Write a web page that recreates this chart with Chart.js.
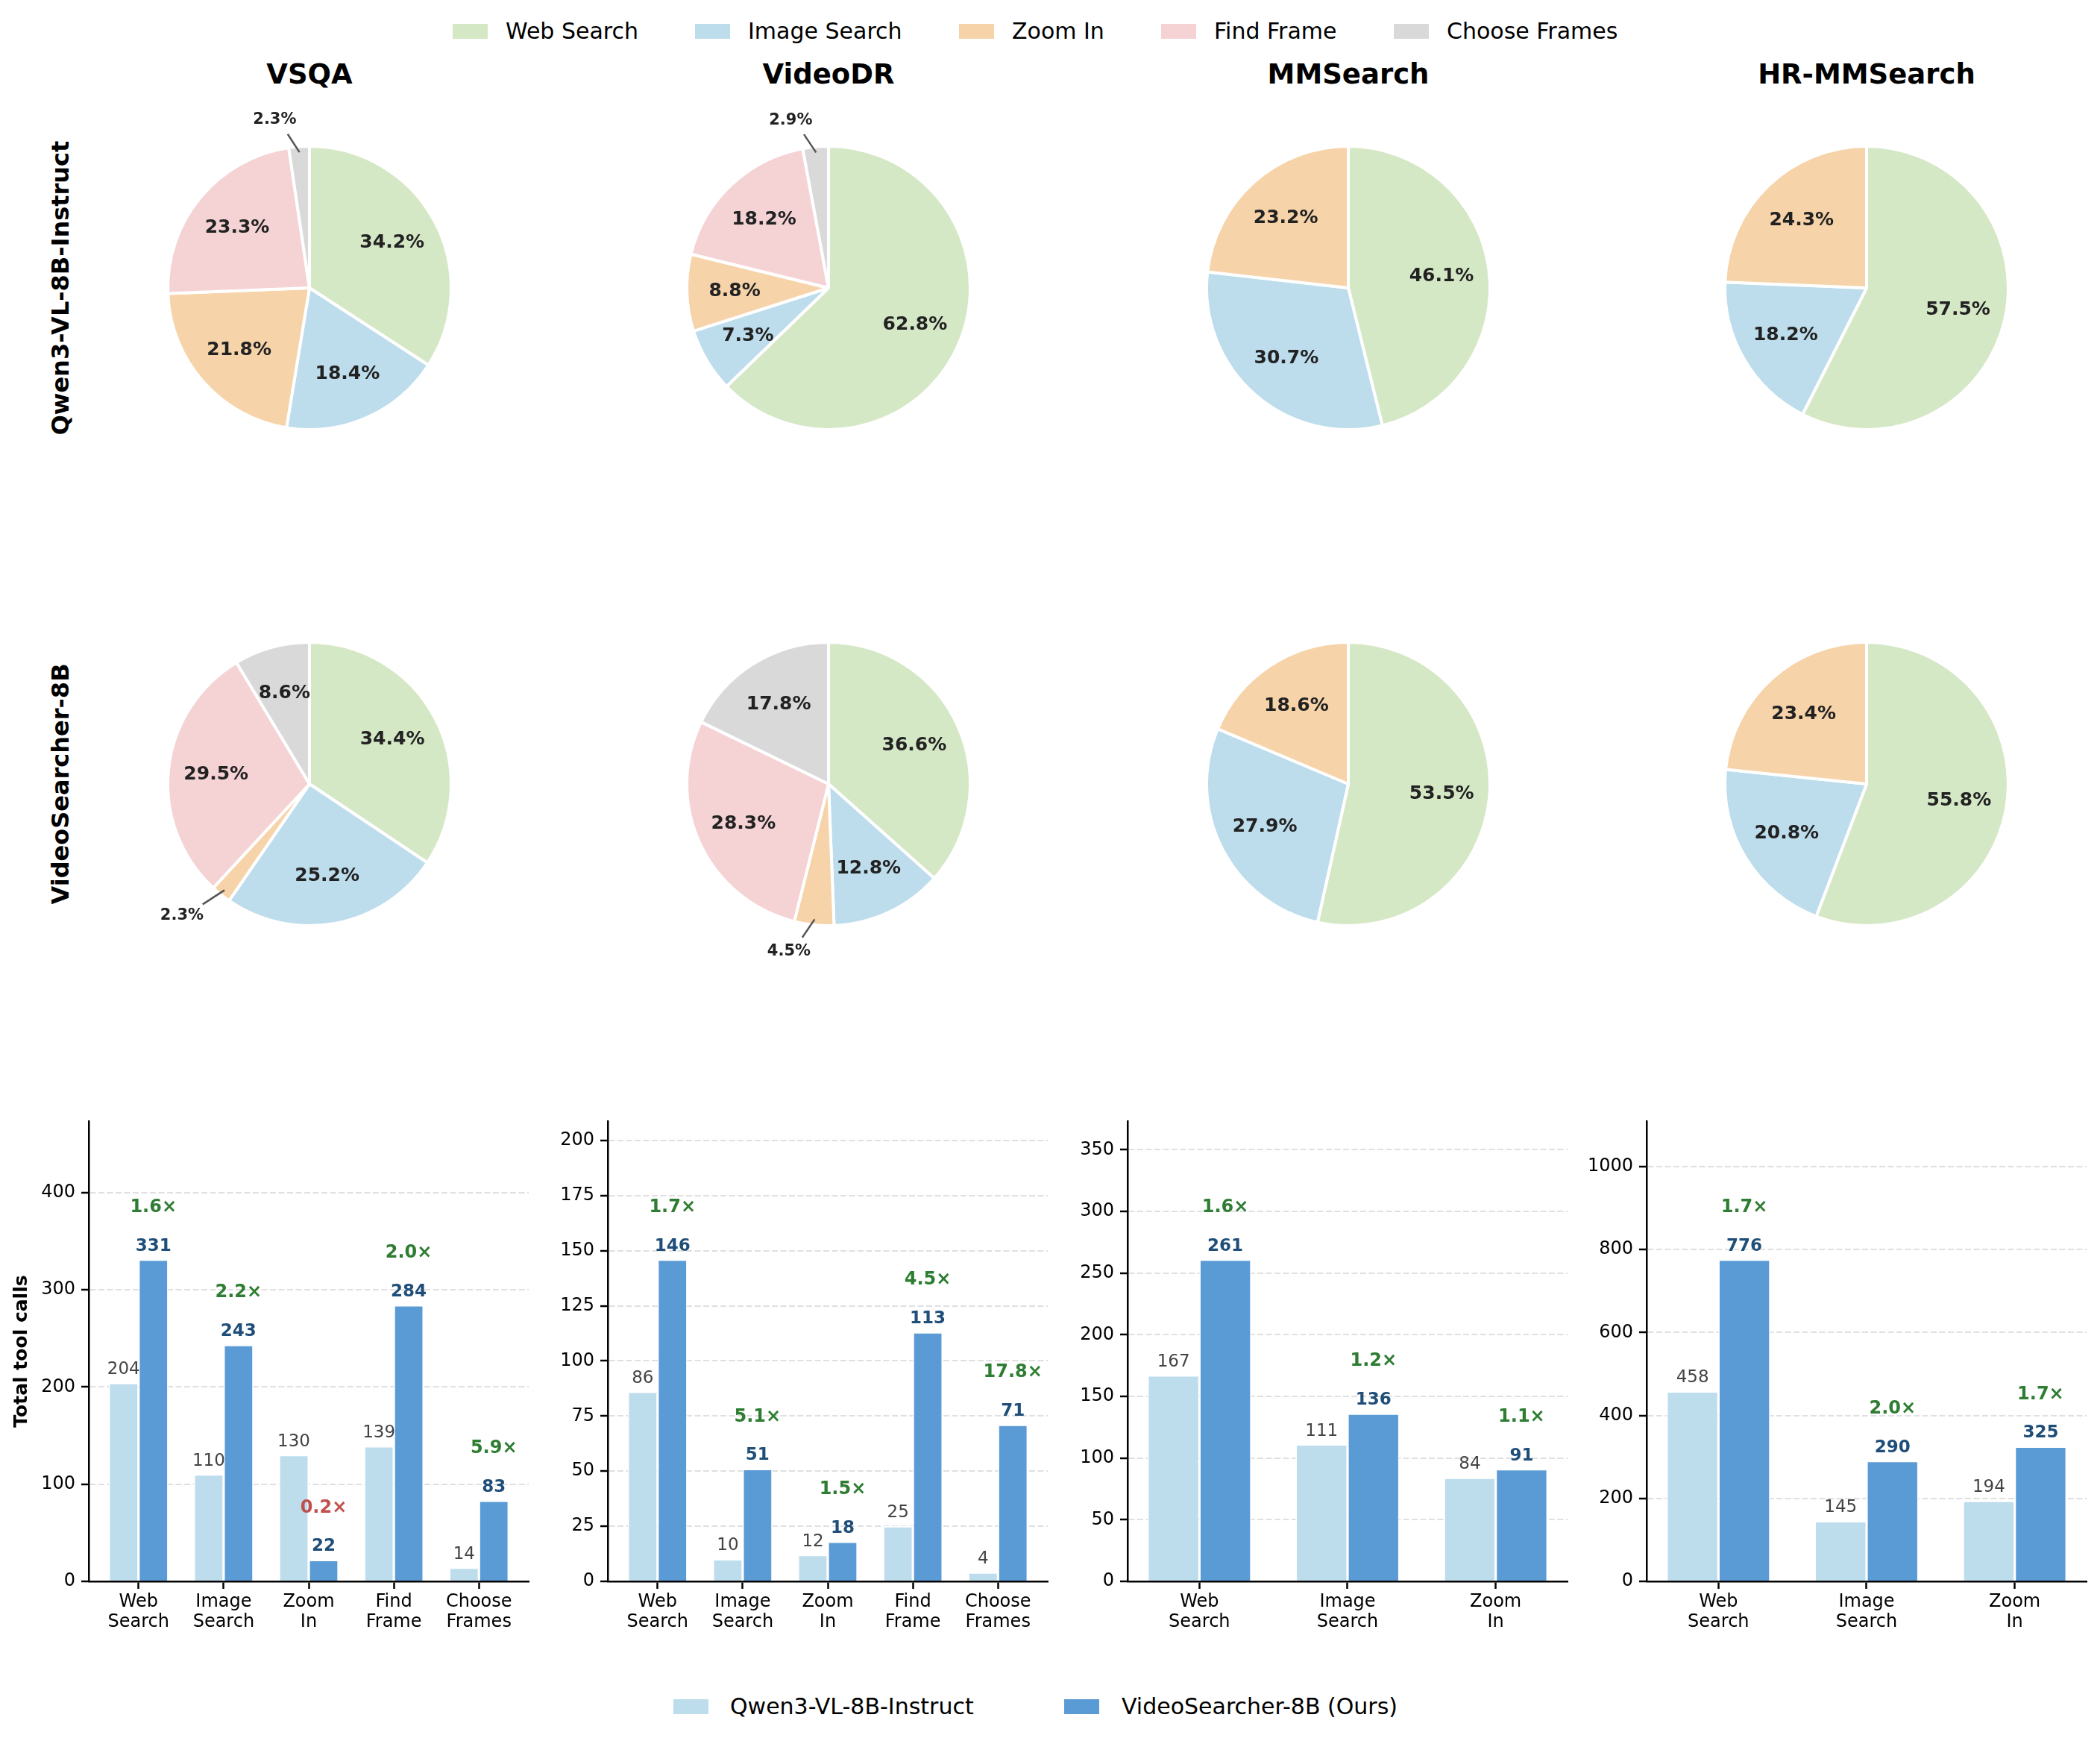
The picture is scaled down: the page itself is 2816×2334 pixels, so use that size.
<!DOCTYPE html>
<html>
<head>
<meta charset="utf-8">
<script src="https://cdn.jsdelivr.net/npm/chart.js@4.4.1/dist/chart.umd.min.js"></script>
<style>
  body { margin: 0; background: #fff; font-family: "DejaVu Sans", sans-serif; }
  #page { position: relative; width: 2816px; height: 2334px; background: #fff; overflow: hidden; }
  canvas { position: absolute; }
  .txt { position: absolute; white-space: nowrap; line-height: 1; color: #000; transform: translate(-50%, -50%); }
  .rowlabel { transform: translate(-50%, -50%) rotate(-90deg); font-weight: bold; font-size: 32px; }
  .title { font-weight: bold; font-size: 37px; }
  .legbox { position: absolute; width: 47px; height: 20px; }
  .legtxt { position: absolute; font-size: 30px; line-height: 1; white-space: nowrap; transform: translateY(-50%); }
</style>
</head>
<body>
<div id="page"></div>
<script>
// tool categories and benchmarks
const categories = ["Web Search", "Image Search", "Zoom In", "Find Frame", "Choose Frames"];
const tickLines = [["Web", "Search"], ["Image", "Search"], ["Zoom", "In"], ["Find", "Frame"], ["Choose", "Frames"]];
const benchmarks = ["VSQA", "VideoDR", "MMSearch", "HR-MMSearch"];
const models = ["Qwen3-VL-8B-Instruct", "VideoSearcher-8B"];

// total tool calls per benchmark
const qwenVSQA = [204, 110, 130, 139, 14];
const oursVSQA = [331, 243, 22, 284, 83];
const qwenVideoDR = [86, 10, 12, 25, 4];
const oursVideoDR = [146, 51, 18, 113, 71];
const qwenMMSearch = [167, 111, 84];
const oursMMSearch = [261, 136, 91];
const qwenHRMMSearch = [458, 145, 194];
const oursHRMMSearch = [776, 290, 325];

const yStepSizes = [100, 25, 50, 200];

const qwenAll = [qwenVSQA, qwenVideoDR, qwenMMSearch, qwenHRMMSearch];
const oursAll = [oursVSQA, oursVideoDR, oursMMSearch, oursHRMMSearch];

const pieColors = ["#d5e8c6", "#bddcec", "#f6d3a9", "#f5d3d4", "#d9d9d9"];
const lightBar = "#bddcec";
const darkBar = "#5b9bd5";
const FONT = '"DejaVu Sans"';

const page = document.getElementById("page");

function addText(text, cx, cy, cls, extra) {
  const d = document.createElement("div");
  d.className = "txt " + cls;
  d.textContent = text;
  d.style.left = cx + "px";
  d.style.top = cy + "px";
  if (extra) Object.assign(d.style, extra);
  page.appendChild(d);
}

function addCanvas(left, top, w, h) {
  const c = document.createElement("canvas");
  c.width = w; c.height = h;
  c.style.left = left + "px"; c.style.top = top + "px";
  c.style.width = w + "px"; c.style.height = h + "px";
  page.appendChild(c);
  return c;
}

function addLegendItem(label, color, boxX, textX, cy) {
  const b = document.createElement("div");
  b.className = "legbox";
  b.style.left = boxX + "px"; b.style.top = (cy - 10) + "px"; b.style.background = color;
  page.appendChild(b);
  const t = document.createElement("div");
  t.className = "legtxt";
  t.textContent = label;
  t.style.left = textX + "px"; t.style.top = cy + "px";
  page.appendChild(t);
}

// top legend
const topLegendX = [607, 932, 1286, 1557, 1869];
categories.forEach((c, i) => addLegendItem(c, pieColors[i], topLegendX[i], topLegendX[i] + 71, 42));

// bottom legend
addLegendItem("Qwen3-VL-8B-Instruct", lightBar, 903, 979, 2288);
addLegendItem("VideoSearcher-8B (Ours)", darkBar, 1427, 1504, 2288);

// pies
const pieCX = [415, 1111, 1808, 2503];
const pieCY = [386, 1051];
const R = 188;

benchmarks.forEach((b, i) => addText(b, pieCX[i], 99, "title"));
models.forEach((m, r) => addText(m, 81, pieCY[r], "rowlabel"));

const pieLabels = {
  id: "pieLabels",
  afterDatasetsDraw(chart) {
    const ctx = chart.ctx;
    const vals = chart.data.datasets[0].data;
    const total = vals.reduce((a, b) => a + b, 0);
    ctx.save();
    ctx.textAlign = "center";
    ctx.textBaseline = "middle";
    ctx.fillStyle = "#222";
    chart.getDatasetMeta(0).data.forEach((arc, i) => {
      const p = arc.getProps(["x", "y", "startAngle", "endAngle"]);
      const mid = (p.startAngle + p.endAngle) / 2;
      const cs = Math.cos(mid), sn = Math.sin(mid);
      const pct = vals[i] / total * 100;
      const txt = pct.toFixed(1) + "%";
      if (pct >= 5) {
        ctx.font = "bold 25px " + FONT;
        ctx.fillText(txt, p.x + cs * R * 0.67, p.y + sn * R * 0.67);
      } else {
        ctx.strokeStyle = "#555";
        ctx.lineWidth = 2.5;
        ctx.beginPath();
        ctx.moveTo(p.x + cs * R * 0.97, p.y + sn * R * 0.97);
        ctx.lineTo(p.x + cs * R * 1.1 - 14, p.y + sn * R * 1.1);
        ctx.stroke();
        ctx.font = "bold 21px " + FONT;
        ctx.fillText(txt, p.x + cs * R * 1.2 - 30, p.y + sn * R * 1.2);
      }
    });
    ctx.restore();
  }
};

[qwenAll, oursAll].forEach((rowData, r) => {
  rowData.forEach((vals, i) => {
    const cv = addCanvas(pieCX[i] - 320, pieCY[r] - 300, 640, 600);
    new Chart(cv, {
      type: "pie",
      data: {
        labels: categories.slice(0, vals.length),
        datasets: [{
          data: vals,
          backgroundColor: pieColors.slice(0, vals.length),
          borderColor: "#ffffff",
          borderWidth: 4
        }]
      },
      options: {
        responsive: false,
        animation: false,
        radius: R + 2,
        layout: { padding: 0 },
        plugins: { legend: { display: false }, tooltip: { enabled: false } }
      },
      plugins: [pieLabels]
    });
  });
});

// bars
const axisX = [119, 815, 1512, 2208];
const plotW = 590, plotTop = 1503, plotH = 617, yAxisW = 119, xAxisH = 100, padTop = 43;

const barLabels = {
  id: "barLabels",
  afterDatasetsDraw(chart) {
    const ctx = chart.ctx;
    const q = chart.data.datasets[0].data;
    const o = chart.data.datasets[1].data;
    ctx.save();
    ctx.textAlign = "center";
    chart.getDatasetMeta(0).data.forEach((bar, i) => {
      ctx.font = "23px " + FONT;
      ctx.fillStyle = "#444";
      ctx.textBaseline = "alphabetic";
      ctx.fillText(String(q[i].y), bar.x, bar.y - 12);
    });
    chart.getDatasetMeta(1).data.forEach((bar, i) => {
      ctx.font = "bold 23px " + FONT;
      ctx.fillStyle = "#1f4e79";
      ctx.textBaseline = "alphabetic";
      ctx.fillText(String(o[i].y), bar.x, bar.y - 12);
      const ratio = o[i].y / q[i].y;
      ctx.font = "bold 24px " + FONT;
      ctx.fillStyle = ratio >= 1 ? "#2e7d32" : "#c0504d";
      ctx.textBaseline = "middle";
      ctx.fillText(ratio.toFixed(1) + "\u00d7", bar.x, bar.y - 70);
    });
    ctx.restore();
  }
};

benchmarks.forEach((b, i) => {
  const q = qwenAll[i], o = oursAll[i];
  const n = q.length;
  const cv = addCanvas(axisX[i] - yAxisW, plotTop - padTop, yAxisW + plotW + 5, padTop + plotH + xAxisH);
  const xMin = -0.35 - 0.05 * (n - 0.3);
  const xMax = n - 1 + 0.35 + 0.05 * (n - 0.3);
  new Chart(cv, {
    type: "bar",
    data: {
      datasets: [
        {
          label: "Qwen3-VL-8B-Instruct",
          data: q.map((v, k) => ({ x: k, y: v })),
          backgroundColor: lightBar,
          borderColor: "#ffffff",
          borderWidth: 1.6
        },
        {
          label: "VideoSearcher-8B (Ours)",
          data: o.map((v, k) => ({ x: k, y: v })),
          backgroundColor: darkBar,
          borderColor: "#ffffff",
          borderWidth: 1.6
        }
      ]
    },
    options: {
      responsive: false,
      animation: false,
      layout: { padding: { top: padTop, right: 5, left: 0, bottom: 0 } },
      categoryPercentage: 0.7,
      barPercentage: 1.0,
      plugins: { legend: { display: false }, tooltip: { enabled: false } },
      scales: {
        x: {
          type: "linear",
          min: xMin,
          max: xMax,
          offset: false,
          afterBuildTicks: (s) => { s.ticks = q.map((v, k) => ({ value: k })); },
          afterFit: (s) => { s.height = xAxisH; },
          ticks: {
            autoSkip: false,
            maxRotation: 0,
            padding: 5,
            color: "#000",
            font: { family: "DejaVu Sans", size: 24, lineHeight: 1.1 },
            callback: (v) => tickLines[v]
          },
          grid: {
            offset: false,
            drawOnChartArea: false,
            drawTicks: true,
            tickLength: 10,
            tickColor: "#000",
            tickWidth: 2.5
          },
          border: { display: true, color: "#000", width: 2.5 }
        },
        y: {
          min: 0,
          max: Math.max(...o) * 1.43,
          afterFit: (s) => { s.width = yAxisW; },
          ticks: {
            stepSize: yStepSizes[i],
            includeBounds: false,
            padding: 8,
            color: "#000",
            font: { family: "DejaVu Sans", size: 24 },
            callback: (v) => String(v)
          },
          grid: {
            color: (c) => (c.tick && c.tick.value === 0 ? "rgba(0,0,0,0)" : "#e0e0e0"),
            lineWidth: 2,
            drawTicks: true,
            tickLength: 10,
            tickColor: "#000",
            tickWidth: 2.5,
            tickBorderDash: []
          },
          border: { display: true, color: "#000", width: 2.5, dash: [8, 3.5] },
          title: {
            display: i === 0,
            text: "Total tool calls",
            color: "#000",
            font: { family: "DejaVu Sans", size: 25, weight: "bold" },
            padding: { top: 14, bottom: 0 }
          }
        }
      }
    },
    plugins: [barLabels]
  });
});
</script>
</body>
</html>
